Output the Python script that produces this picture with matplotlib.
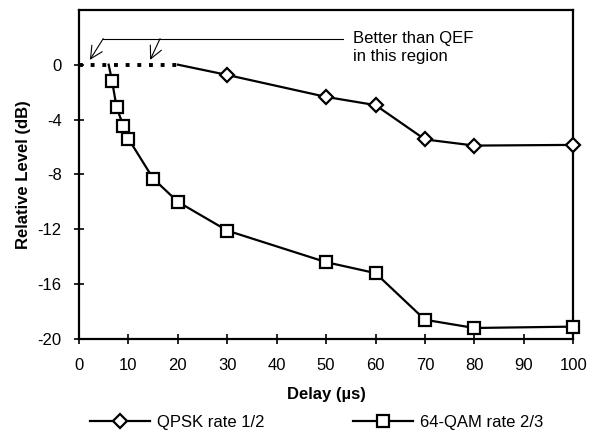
import matplotlib
matplotlib.use("Agg")
import matplotlib.pyplot as plt

plt.rcParams["font.family"] = ["Liberation Sans", "DejaVu Sans"]
plt.rcParams["axes.unicode_minus"] = False

# QPSK rate 1/2 (first point is the unmarked start of the curve)
qpsk_delay = [20, 30, 50, 60, 70, 80, 100]
qpsk_level = [0.0, -0.75, -2.35, -2.95, -5.45, -5.9, -5.85]

# 64-QAM rate 2/3
qam_delay = [6, 6.7, 7.6, 9, 10, 15, 20, 30, 50, 60, 70, 80, 100]
qam_level = [0.0, -1.2, -3.1, -4.5, -5.4, -8.3, -10.0, -12.1, -14.4, -15.2, -18.6, -19.2, -19.1]

# "better than QEF" region along 0 dB
qef_delay = [0, 20]
qef_level = [0, 0]

x_ticks = list(range(0, 101, 10))
y_ticks = list(range(-20, 1, 4))

fig = plt.figure(figsize=(5.94, 4.46), dpi=100)
ax = fig.add_axes([0.133, 0.24, 0.832, 0.738])

ax.plot(qef_delay, qef_level, color="black", lw=2.8, linestyle=(0, (1, 2.0)),
        dash_capstyle="butt")
ax.plot(qpsk_delay, qpsk_level, color="black", lw=1.6, marker="D", markersize=7,
        markerfacecolor="white", markeredgecolor="black", markeredgewidth=1.6,
        markevery=list(range(1, len(qpsk_delay))), label="QPSK rate 1/2",
        clip_on=False, zorder=3)
ax.plot(qam_delay, qam_level, color="black", lw=1.6, marker="s", markersize=9,
        markerfacecolor="white", markeredgecolor="black", markeredgewidth=1.6,
        markevery=list(range(1, len(qam_delay))), label="64-QAM rate 2/3",
        clip_on=False, zorder=3)

# annotation: bracket line with two arrows
ax.plot([4.9, 53.5], [1.9, 1.9], color="black", lw=0.8)
for x0, x1 in [(4.9, 2.2), (16.4, 14.4)]:
    ax.annotate("", xy=(x1, 0.35), xytext=(x0, 1.9),
                arrowprops=dict(arrowstyle="->", color="black", lw=0.8,
                                mutation_scale=22, shrinkA=0, shrinkB=0))
ax.text(55.5, 1.25, "Better than QEF\nin this region", fontsize=12,
        va="center", ha="left", linespacing=1.2)

ax.set_xlim(0, 100)
ax.set_ylim(-20, 4)
ax.set_xticks(x_ticks)
ax.set_yticks(y_ticks)
ax.tick_params(direction="inout", length=7, width=1.2, labelsize=12)
ax.tick_params(axis="x", pad=10)
ax.tick_params(axis="y", pad=9)
for s in ax.spines.values():
    s.set_linewidth(1.6)

ax.set_xlabel("Delay (µs)", fontsize=12, fontweight="bold", labelpad=10)
ax.set_ylabel("Relative Level (dB)", fontsize=12, fontweight="bold", labelpad=5)

fig.legend(loc="center", bbox_to_anchor=(0.533, 0.053), ncol=2, frameon=False,
           fontsize=12, columnspacing=5.3, handlelength=3.6, handletextpad=0.4)

fig.savefig("out.png", dpi=100)
